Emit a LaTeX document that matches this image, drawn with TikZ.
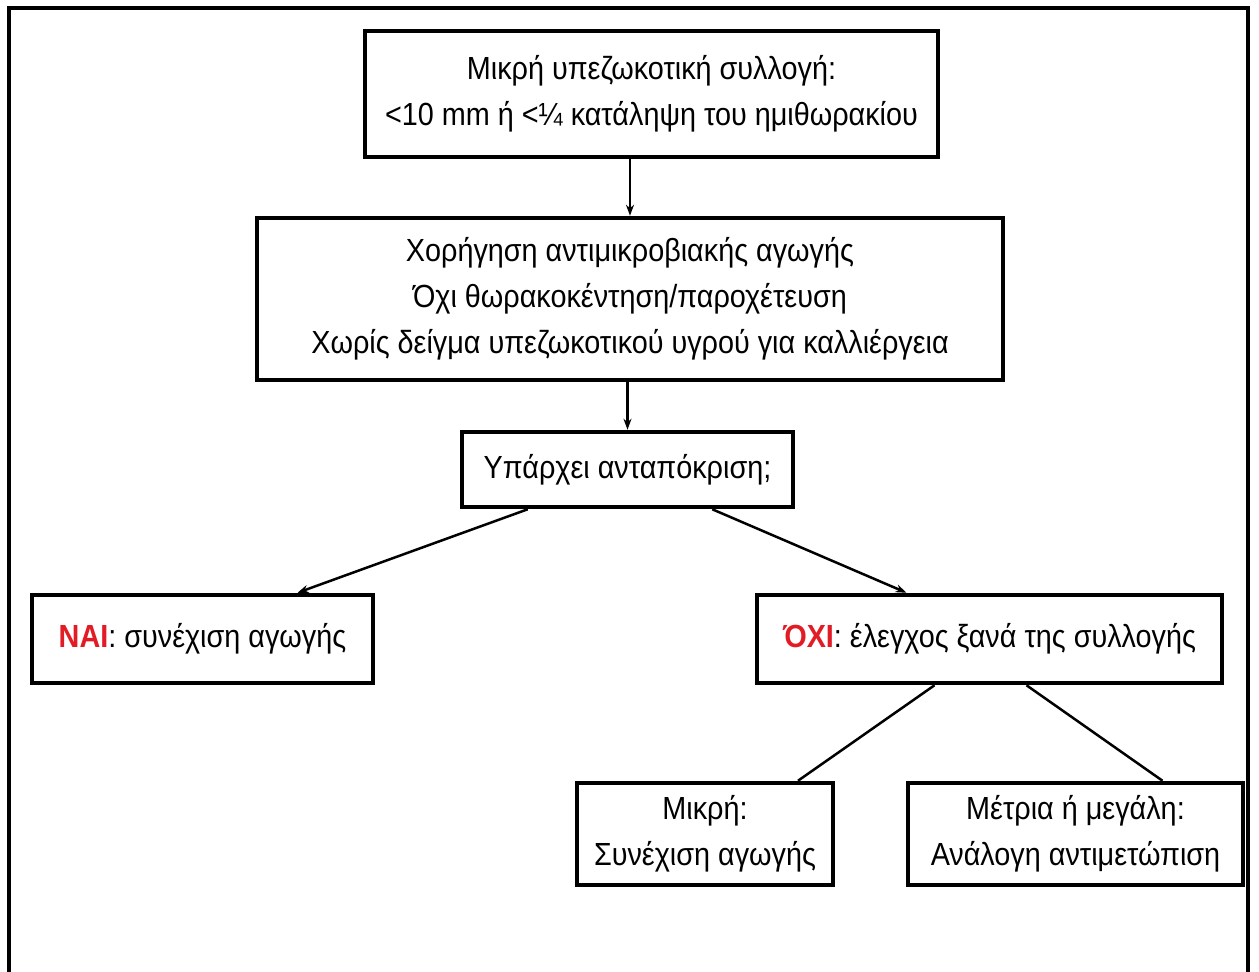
\documentclass[tikz,border=0pt]{standalone}
\usepackage{fontspec}
\setmainfont{Liberation Sans}
\newfontfamily\boxfont[FakeStretch=0.9]{Liberation Sans}
\usetikzlibrary{arrows.meta}

\definecolor{nared}{RGB}{226,28,36}

\tikzset{
  box/.style={draw, line width=4.5pt, align=center, inner sep=0pt,
    font=\boxfont\fontsize{32}{46}\selectfont},
  link/.style={line width=2.5pt},
  arr/.style={link, -{Stealth[length=11pt,width=8pt]}}
}

\begin{document}
\begin{tikzpicture}[x=1pt,y=-1pt]
\useasboundingbox (0,0) rectangle (1259,972);
\draw[line width=4pt] (9,972) -- (9,8) -- (1248,8) -- (1248,972);

\node[box, minimum width=573pt, minimum height=126pt] (small) at (651.5,94)
  {Μικρή υπεζωκοτική συλλογή:\\ <10 mm ή <¼ κατάληψη του ημιθωρακίου};
\node[box, minimum width=746pt, minimum height=162pt] (treat) at (630,299)
  {Χορήγηση αντιμικροβιακής αγωγής\\ Όχι θωρακοκέντηση/παροχέτευση\\ Χωρίς δείγμα υπεζωκοτικού υγρού για καλλιέργεια};
\node[box, minimum width=331pt, minimum height=75pt] (resp) at (627.5,469.5)
  {Υπάρχει ανταπόκριση;};
\node[box, minimum width=341pt, minimum height=88pt] (yes) at (202.5,639)
  {\textbf{\textcolor{nared}{ΝΑΙ}}: συνέχιση αγωγής};
\node[box, minimum width=465pt, minimum height=88pt] (no) at (989.5,639)
  {\textbf{\textcolor{nared}{ΌΧΙ}}: έλεγχος ξανά της συλλογής};
\node[box, minimum width=256pt, minimum height=102pt] (minor) at (705,834)
  {Μικρή:\\ Συνέχιση αγωγής};
\node[box, minimum width=335pt, minimum height=102pt] (major) at (1075.5,834)
  {Μέτρια ή μεγάλη:\\ Ανάλογη αντιμετώπιση};

\draw[arr] (small.south -| treat.north) -- (treat.north);
\draw[arr] (treat.south -| resp.north) -- (resp.north);
\draw[arr] ([xshift=68pt]resp.south west) -- ([xshift=95pt]yes.north);
\draw[arr] ([xshift=-83pt]resp.south east) -- ([xshift=-83pt]no.north);
\draw[link] ([xshift=-55pt]no.south) -- ([xshift=93pt]minor.north);
\draw[link] ([xshift=37pt]no.south) -- ([xshift=87pt]major.north);
\end{tikzpicture}
\end{document}
